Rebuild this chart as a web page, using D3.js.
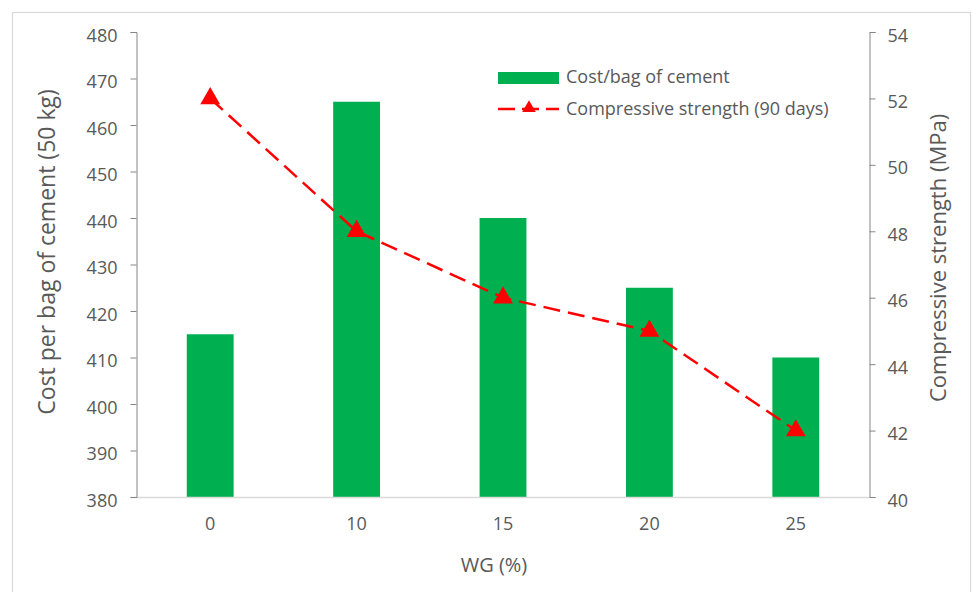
<!DOCTYPE html>
<html>
<head>
<meta charset="utf-8">
<script src="https://cdn.jsdelivr.net/npm/d3@7"></script>
<style>
  html, body { margin: 0; padding: 0; background: #fff; }
  svg { display: block; }
  text { font-family: "Open Sans", "Liberation Sans", sans-serif; fill: #595959; }
</style>
</head>
<body>
<svg id="chart" width="972" height="592"></svg>
<script>
// WG replacement levels and the two measured series
const categories = ["0", "10", "15", "20", "25"];
const costPerBag = [415, 465, 440, 425, 410];
const strength90 = [52, 48, 46, 45, 42];
const leftTicks = [380, 390, 400, 410, 420, 430, 440, 450, 460, 470, 480];
const rightTicks = [40, 42, 44, 46, 48, 50, 52, 54];

const svg = d3.select("#chart");
const W = 972, H = 592;
const plot = { left: 137, right: 869, top: 32, bottom: 497 };

// outer frame (bottom edge runs past the canvas)
svg.append("rect")
  .attr("x", 12.5).attr("y", 12.5)
  .attr("width", W - 14).attr("height", H + 10)
  .attr("fill", "none").attr("stroke", "#d9d9d9").attr("stroke-width", 1.2);

const x = d3.scaleBand().domain(categories).range([plot.left, plot.right]).paddingInner(0.68).paddingOuter(0.34);
const yL = d3.scaleLinear().domain([380, 480]).range([plot.bottom, plot.top]);
const yR = d3.scaleLinear().domain([40, 54]).range([plot.bottom, plot.top]);

// bars
svg.append("g").selectAll("rect")
  .data(categories)
  .join("rect")
  .attr("x", d => x(d))
  .attr("width", x.bandwidth())
  .attr("y", (d, i) => yL(costPerBag[i]))
  .attr("height", (d, i) => yL(380) - yL(costPerBag[i]))
  .attr("fill", "#00b050");

// bottom axis
const xAxis = svg.append("g")
  .attr("transform", `translate(0,${plot.bottom})`)
  .call(d3.axisBottom(x).tickSize(0).tickPadding(20));
xAxis.select(".domain").attr("stroke", "#d9d9d9").attr("stroke-width", 1.5)
  .attr("d", `M${plot.left - 6},0.5H${plot.right}`);
xAxis.selectAll("text").style("font-size", "18px").attr("fill", "#595959");

// left axis
const lAxis = svg.append("g")
  .attr("transform", `translate(${plot.left - 0.5},0)`)
  .call(d3.axisLeft(yL).tickValues(leftTicks).tickSize(6).tickPadding(13));
lAxis.select(".domain").attr("stroke", "#868686");
lAxis.selectAll(".tick line").attr("stroke", "#868686");
lAxis.selectAll("text").style("font-size", "18px").attr("fill", "#595959").attr("dy", "0.5em");

// right axis
const rAxis = svg.append("g")
  .attr("transform", `translate(${plot.right + 0.5},0)`)
  .call(d3.axisRight(yR).tickValues(rightTicks).tickSize(6).tickPadding(12));
rAxis.select(".domain").attr("stroke", "#868686");
rAxis.selectAll(".tick line").attr("stroke", "#868686");
rAxis.selectAll("text").style("font-size", "18px").attr("fill", "#595959").attr("dy", "0.5em");

// compressive strength line
const cx = d => x(d) + x.bandwidth() / 2;
const line = d3.line().x((d, i) => cx(categories[i])).y(d => yR(d));
svg.append("path")
  .datum(strength90)
  .attr("d", line)
  .attr("fill", "none")
  .attr("stroke", "#ff0000")
  .attr("stroke-width", 2.5)
  .attr("stroke-dasharray", "17,8");

const tri = d3.symbol().type(d3.symbolTriangle).size(170);
svg.append("g").selectAll("path")
  .data(strength90)
  .join("path")
  .attr("d", tri)
  .attr("transform", (d, i) => `translate(${cx(categories[i])},${yR(d)})`)
  .attr("fill", "#ff0000");

// axis titles
svg.append("text")
  .attr("transform", "translate(47,252) rotate(-90)")
  .attr("text-anchor", "middle")
  .attr("dy", "0.35em")
  .style("font-size", "23px")
  .text("Cost per bag of cement (50 kg)");
svg.append("text")
  .attr("transform", "translate(938,258) rotate(-90)")
  .attr("text-anchor", "middle")
  .attr("dy", "0.35em")
  .style("font-size", "22px")
  .text("Compressive strength (MPa)");
svg.append("text")
  .attr("x", 494).attr("y", 565)
  .attr("text-anchor", "middle")
  .attr("dy", "0.35em")
  .style("font-size", "20px")
  .text("WG (%)");

// legend
const lg = svg.append("g");
lg.append("rect").attr("x", 498).attr("y", 72).attr("width", 61).attr("height", 12).attr("fill", "#00b050");
lg.append("text").attr("x", 566).attr("y", 77).attr("dy", "0.35em").style("font-size", "18px").text("Cost/bag of cement");
lg.append("line").attr("x1", 498).attr("x2", 559).attr("y1", 109).attr("y2", 109)
  .attr("stroke", "#ff0000").attr("stroke-width", 2.5).attr("stroke-dasharray", "17,7");
lg.append("path").attr("d", d3.symbol().type(d3.symbolTriangle).size(80))
  .attr("transform", "translate(529,108)").attr("fill", "#ff0000");
lg.append("text").attr("x", 566).attr("y", 109).attr("dy", "0.35em").style("font-size", "18px").text("Compressive strength (90 days)");
</script>
</body>
</html>
